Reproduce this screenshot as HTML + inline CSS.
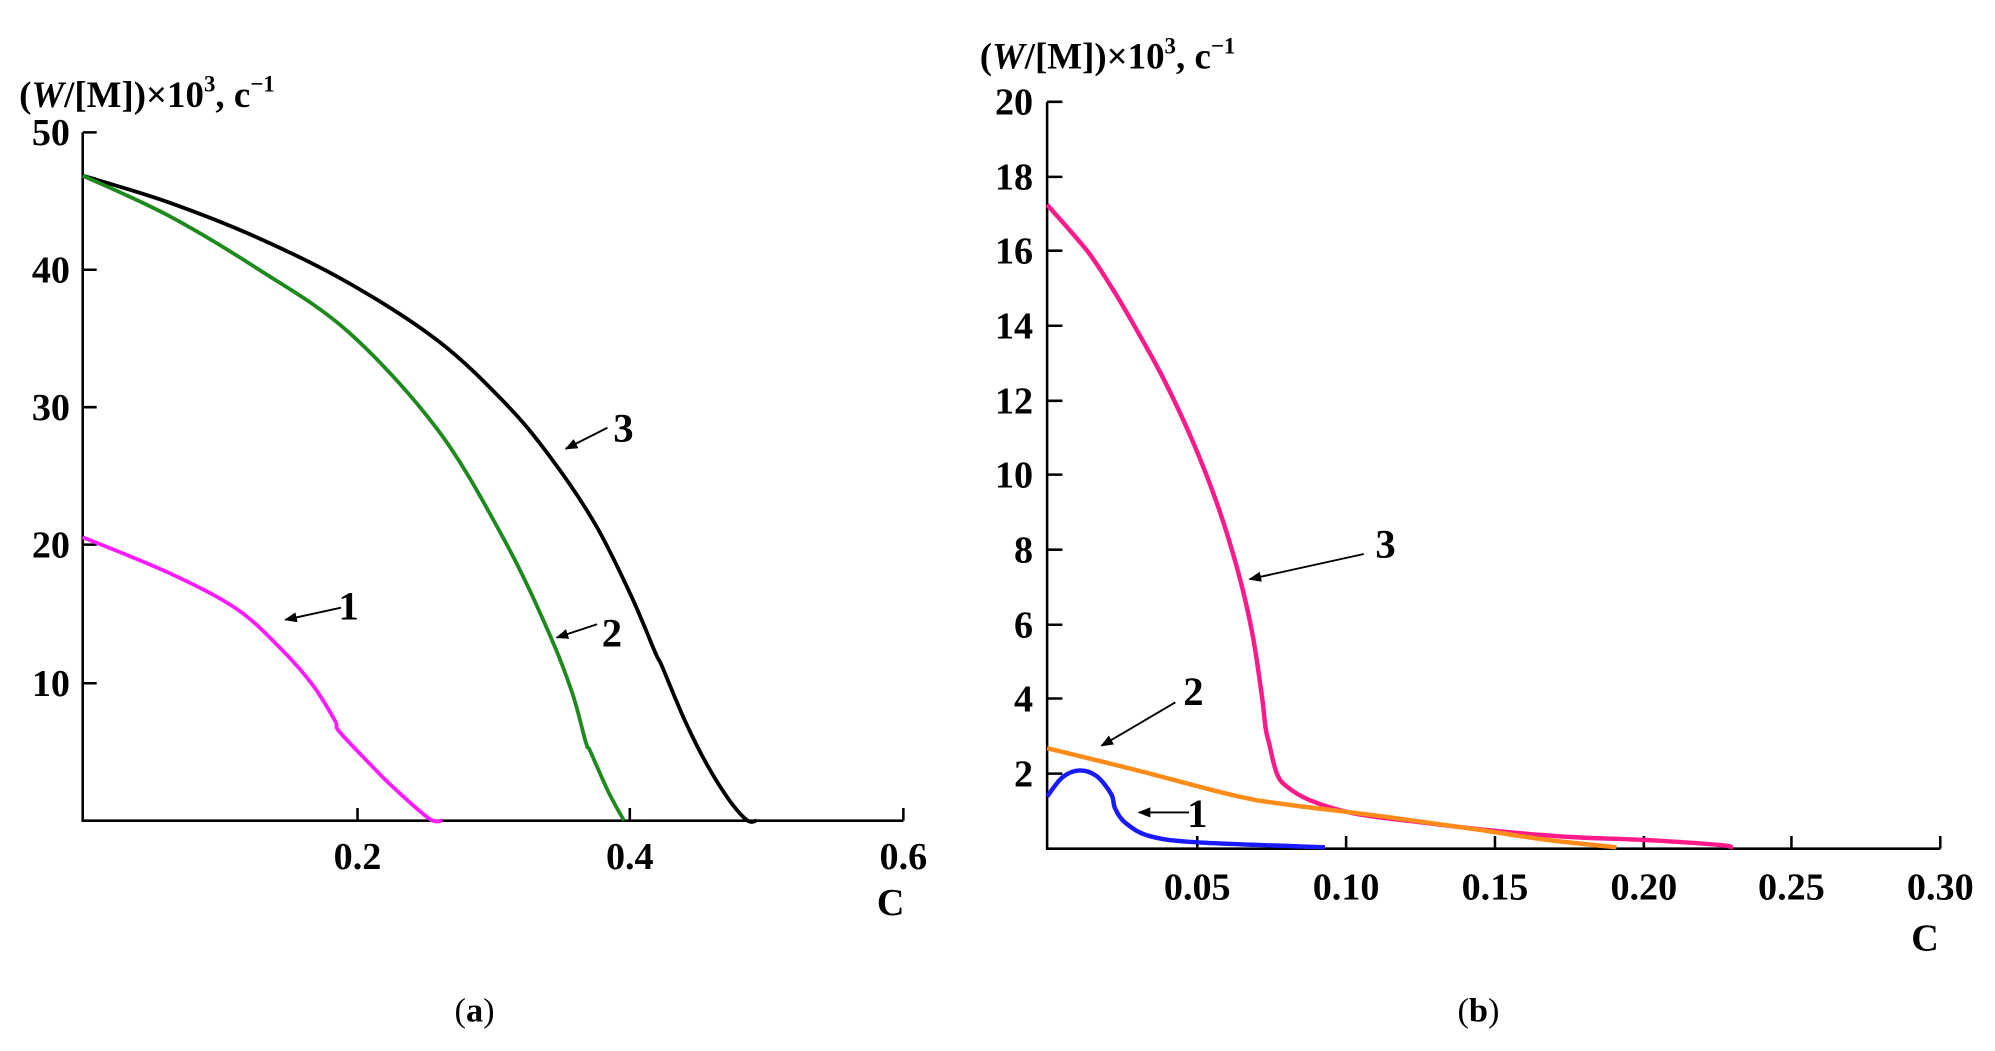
<!DOCTYPE html>
<html><head><meta charset="utf-8"><style>html,body{margin:0;padding:0;background:#fff}svg{display:block}</style></head>
<body>
<svg width="1995" height="1051" viewBox="0 0 1568 826" xmlns="http://www.w3.org/2000/svg" font-family="Liberation Serif, serif" font-weight="bold">
<defs><marker id="ah" markerWidth="10" markerHeight="8" refX="9" refY="4" orient="auto" markerUnits="userSpaceOnUse"><path d="M0,0 L10,4 L0,8 Z" fill="#000"/></marker></defs>
<rect width="1568" height="826" fill="#fff"/>
<!-- Panel a -->
<g stroke="#000" stroke-width="2" fill="none">
<path d="M65,104 H76 M65,104 V645 H710 M65,212 H76 M65,320 H76 M65,428 H76 M65,537 H76 M281,645 V635 M495,645 V635 M710,645 V635"/>
</g>
<g font-size="30" text-anchor="end">
<text x="55" y="114">50</text><text x="55" y="222">40</text><text x="55" y="330">30</text><text x="55" y="438">20</text><text x="55" y="547">10</text>
</g>
<g font-size="30" text-anchor="middle"><text x="281" y="683">0.2</text><text x="495" y="683">0.4</text><text x="710" y="683">0.6</text><text x="700" y="719">C</text></g>
<text x="15" y="84" font-size="29">(<tspan font-style="italic">W</tspan>/[M])×10<tspan dy="-12" font-size="18">3</tspan><tspan dy="12">, c</tspan><tspan dy="-12" font-size="18">−1</tspan></text>
<g fill="none" stroke-width="3" stroke-linejoin="round">
<path class="cr" data-p="65,138 132.7,159.1 203.2,187.1 273.7,222.2 344.2,267.8 397.1,316.9 432.3,359 467.6,411.6 495.8,467.7 515.2,513.3 520.4,523.8 538.1,565.9 555.7,601 573.3,629 587.4,644.8 594.5,645" stroke="#000"/>
<path class="cr" data-p="65,138 132.7,169.6 203.2,211.7 273.7,260.8 344.2,338 397.1,425.7 432.3,499.4 449.9,545 460.5,583.6 464,590.6 478.1,622.2 490.5,645" stroke="#1e8a1e"/>
<path class="cr" data-p="65,422.2 132.7,450.2 185.6,478.3 220.8,509.9 245.5,538 263.1,566 266.6,574.8 291.3,601 308.9,618.6 337.1,643.2 347.7,645" stroke="#ff1aff"/>
</g>
<g stroke="#000" stroke-width="1.5" marker-end="url(#ah)"><line x1="268" y1="477.6" x2="224.3" y2="487.1"/><line x1="469.3" y1="490.6" x2="437.6" y2="501.1"/><line x1="477.4" y1="336.2" x2="444.7" y2="352.7"/></g>
<g font-size="32"><text x="266" y="487">1</text><text x="473" y="508">2</text><text x="482" y="347">3</text></g>
<!-- Panel b -->
<g stroke="#000" stroke-width="2" fill="none">
<path d="M823,80 V667 H1525 M823,80 H835 M823,139 H835 M823,197 H835 M823,256 H835 M823,315 H835 M823,373 H835 M823,432 H835 M823,491 H835 M823,549 H835 M823,608 H835 M941,667 V657 M1058,667 V657 M1175,667 V657 M1292,667 V657 M1408,667 V657 M1525,667 V657"/>
</g>
<g font-size="30" text-anchor="end">
<text x="812" y="90">20</text><text x="812" y="149">18</text><text x="812" y="207">16</text><text x="812" y="266">14</text><text x="812" y="325">12</text><text x="812" y="383">10</text><text x="812" y="442">8</text><text x="812" y="501">6</text><text x="812" y="559">4</text><text x="812" y="618">2</text>
</g>
<g font-size="30" text-anchor="middle"><text x="941" y="707">0.05</text><text x="1058" y="707">0.10</text><text x="1175" y="707">0.15</text><text x="1292" y="707">0.20</text><text x="1408" y="707">0.25</text><text x="1525" y="707">0.30</text><text x="1513" y="747">C</text></g>
<text x="770" y="54" font-size="29">(<tspan font-style="italic">W</tspan>/[M])×10<tspan dy="-12" font-size="18">3</tspan><tspan dy="12">, c</tspan><tspan dy="-12" font-size="18">−1</tspan></text>
<g fill="none" stroke-width="3.5" stroke-linejoin="round">
<path class="cr" data-p="823,160.9 854.3,196.9 873.4,225.4 892.5,257.7 915.4,299.5 938.3,348.8 957.4,398.2 972.6,447.5 984.1,496.9 991.7,546.3 994.8,572.8 997.5,584.3 1003.2,607 1010.8,617.7 1029.9,629.1 1064.2,639.3 1121.5,646.9 1178.7,653.4 1236,657.9 1293.2,660.2 1350.5,664 1361.9,665.9" stroke="#ff1a8c"/>
<path class="cr" data-p="823,588 892.5,605.1 968.8,624.9 1007,631.7 1083.3,641.2 1159.7,651.8 1216.9,660.2 1270.4,665.9" stroke="#ff8c1a"/>
<path class="cr" data-p="823,626 835.2,610.8 848.6,605.5 861.9,610 873.4,624.1 876.5,635.5 884.8,646.9 903.9,657.2 942,662.1 1041.3,665.9" stroke="#1a1aff"/>
</g>
<g stroke="#000" stroke-width="1.5" marker-end="url(#ah)"><line x1="934.5" y1="638.5" x2="895.1" y2="638.5"/><line x1="923.8" y1="552" x2="865.8" y2="586.1"/><line x1="1071.9" y1="435.4" x2="982.2" y2="455.2"/></g>
<g font-size="32"><text x="933" y="650">1</text><text x="930" y="554">2</text><text x="1081" y="438">3</text></g>
<!-- captions -->
<g font-size="27" font-weight="normal" text-anchor="middle"><text x="373" y="803">(<tspan font-weight="bold">a</tspan>)</text><text x="1162" y="803">(<tspan font-weight="bold">b</tspan>)</text></g>
</svg>
<script>
document.querySelectorAll('path.cr').forEach(function(el){
  var p=el.getAttribute('data-p').trim().split(/\s+/).map(function(s){return s.split(',').map(Number);});
  var d='M'+p[0][0]+','+p[0][1];
  for(var i=0;i<p.length-1;i++){
    var p0=p[i-1]||p[i],p1=p[i],p2=p[i+1],p3=p[i+2]||p2;
    var c1=[p1[0]+(p2[0]-p0[0])/6,p1[1]+(p2[1]-p0[1])/6];
    var c2=[p2[0]-(p3[0]-p1[0])/6,p2[1]-(p3[1]-p1[1])/6];
    d+=' C'+c1[0].toFixed(1)+','+c1[1].toFixed(1)+' '+c2[0].toFixed(1)+','+c2[1].toFixed(1)+' '+p2[0]+','+p2[1];
  }
  el.setAttribute('d',d);
});
</script>
</body></html>
